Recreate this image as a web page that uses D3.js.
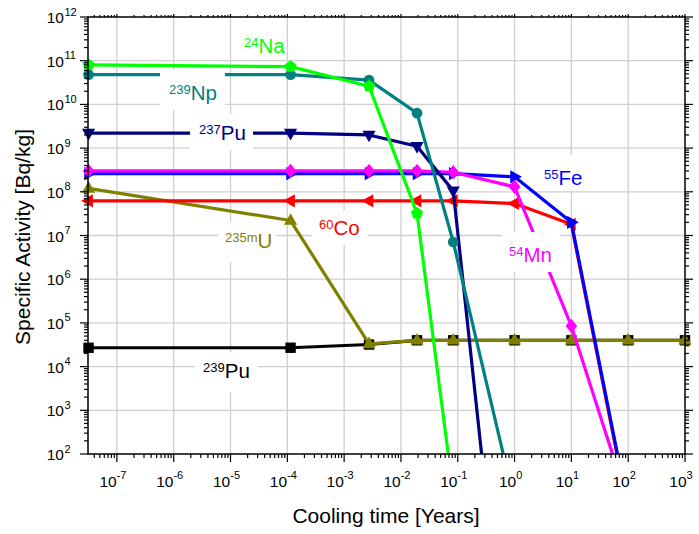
<!DOCTYPE html>
<html><head><meta charset="utf-8">
<script src="https://cdn.jsdelivr.net/npm/d3@7"></script>
<style>
body{margin:0;background:#fff}
text{font-family:Arial,"Liberation Sans",sans-serif}
</style>
</head><body>
<svg id="chart" width="699" height="534"></svg>
<script>
// ---- data ----
const times = [3.17e-8, 1.14e-4, 2.74e-3, 1.92e-2, 8.33e-2, 1, 10, 100, 1000]; // 1s,1h,1d,1w,1mo,1y,10y,100y,1000y
const pu239 = [2.7e4, 2.7e4, 3.2e4, 4.0e4, 4.0e4, 4.0e4, 4.0e4, 4.0e4, 4.0e4];
const u235m = [1.2e8, 2.2e7, 3.3e4, 4.0e4, 4.0e4, 4.0e4, 4.0e4, 4.0e4, 4.0e4];
const co60  = [6.2e7, 6.2e7, 6.2e7, 6.2e7, 6.2e7, 5.4e7, 1.8e7, 5, null];
const fe55  = [2.6e8, 2.6e8, 2.6e8, 2.6e8, 2.6e8, 2.2e8, 2.0e7, 5.8, null];
const mn54  = [3.0e8, 3.0e8, 3.0e8, 3.0e8, 2.8e8, 1.3e8, 8.5e4, 7.6, null];
const pu237 = [2.2e9, 2.2e9, 2.0e9, 1.1e9, 1.05e8, 1e-5, null, null, null];
const np239 = [4.8e10, 4.8e10, 3.6e10, 6.3e9, 7.1e6, 8, null, null, null];
const na24  = [8.0e10, 7.3e10, 2.6e10, 3.2e7, 13, null, null, null, null];
const xTickExps = [-7, -6, -5, -4, -3, -2, -1, 0, 1, 2, 3];
const yTickExps = [2, 3, 4, 5, 6, 7, 8, 9, 10, 11, 12];
const labelSup  = ["239", "235m", "60", "55", "54", "237", "239", "24"];
const labelMain = ["Pu", "U", "Co", "Fe", "Mn", "Pu", "Np", "Na"];
const xTitle = "Cooling time [Years]";
const yTitle = "Specific Activity [Bq/kg]";

// ---- layout ----
const L = 88, R = 685, T = 17, B = 454;
const svg = d3.select("#chart");
const x = d3.scaleLog().domain([3.1e-8, 1000]).range([L, R]);
const y = d3.scaleLog().domain([100, 1e12]).range([B, T]);

// grid
const grid = svg.append("g").attr("stroke", "#cfcfcf").attr("stroke-width", 1.3);
xTickExps.filter(e => e > -8 && e < 3).forEach(e => {
  grid.append("line").attr("x1", x(Math.pow(10, e))).attr("x2", x(Math.pow(10, e))).attr("y1", T).attr("y2", B);
});
yTickExps.filter(e => e > 2 && e < 12).forEach(e => {
  grid.append("line").attr("y1", y(Math.pow(10, e))).attr("y2", y(Math.pow(10, e))).attr("x1", L).attr("x2", R);
});

// clip
svg.append("clipPath").attr("id", "clip").append("rect")
  .attr("x", L).attr("y", T).attr("width", R - L).attr("height", B - T);

// symbols
function tri() {
  return `M0,-7.4L6.6,4.3L-6.6,4.3Z`;
}
const shapes = {
  square: () => "M-5.2,-5.2H5.2V5.2H-5.2Z",
  circle: () => d3.symbol(d3.symbolCircle, 90)(),
  diamond: () => "M0,-7.2L5.8,0L0,7.2L-5.8,0Z",
  up: () => tri(),
  pentagon: () => {
    const r = 6.4; let p = "";
    for (let k = 0; k < 5; k++) {
      const a = (-90 + 72 * k) * Math.PI / 180;
      p += (k ? "L" : "M") + (r * Math.cos(a)).toFixed(2) + "," + (r * Math.sin(a)).toFixed(2);
    }
    return p + "Z";
  }
};
const series = [
  {values: pu239, color: "#000000", shape: "square", rot: 0},
  {values: u235m, color: "#808000", shape: "up", rot: 0},
  {values: co60,  color: "#ff0000", shape: "up", rot: -90},
  {values: fe55,  color: "#0000ff", shape: "up", rot: 90},
  {values: mn54,  color: "#ff00ff", shape: "diamond", rot: 0},
  {values: pu237, color: "#000080", shape: "up", rot: 180},
  {values: np239, color: "#008080", shape: "circle", rot: 0},
  {values: na24,  color: "#00ff00", shape: "pentagon", rot: 0}
];

const line = d3.line().defined(d => d.v != null).x(d => x(d.t)).y(d => y(d.v));
series.forEach(s => {
  const pts = times.map((t, i) => ({t, v: s.values[i]}));
  const g = svg.append("g");
  g.append("path").attr("d", line(pts)).attr("clip-path", "url(#clip)")
    .attr("fill", "none").attr("stroke", s.color).attr("stroke-width", 3.2).attr("stroke-linejoin", "round");
  g.selectAll("path.m").data(pts.filter(d => d.v != null && d.v >= 100)).enter().append("path")
    .attr("class", "m")
    .attr("d", shapes[s.shape]())
    .attr("transform", d => `translate(${x(d.t)},${y(d.v)}) rotate(${s.rot})`)
    .attr("fill", s.color);
});

// labels with white backgrounds
const labelPos = [
  {sx: 203, by: 378, box: [195, 352, 63, 40], color: "#000000"},
  {sx: 225, by: 248, box: [218, 222, 58, 40], color: "#808000"},
  {sx: 319, by: 235, box: [312, 210, 56, 35], color: "#ff0000"},
  {sx: 544, by: 185, box: [540, 155, 50, 36], color: "#0000ff"},
  {sx: 509, by: 262, box: [502, 232, 58, 40], color: "#ff00ff"},
  {sx: 199, by: 140, box: [190, 114, 63, 36], color: "#000080"},
  {sx: 169, by: 100, box: [160, 70, 65, 40], color: "#008080"},
  {sx: 244, by: 53, box: null, color: "#00ff00"}
];
labelPos.forEach((p, i) => {
  if (p.box) svg.append("rect").attr("x", p.box[0]).attr("y", p.box[1]).attr("width", p.box[2]).attr("height", p.box[3]).attr("fill", "#fff");
  const t = svg.append("text").attr("x", p.sx).attr("y", p.by).attr("fill", p.color);
  t.append("tspan").attr("font-size", 13).attr("dy", -6).text(labelSup[i]);
  t.append("tspan").attr("font-size", 20.5).attr("dy", 6).text(labelMain[i]);
});

// frame
svg.append("rect").attr("x", L).attr("y", T).attr("width", R - L).attr("height", B - T)
  .attr("fill", "none").attr("stroke", "#000").attr("stroke-width", 1.5);

// ticks
const tk = svg.append("g").attr("stroke", "#000").attr("stroke-width", 1.2);
for (let e = -8; e <= 3; e++) {
  for (let m = 1; m <= 9; m++) {
    const v = m * Math.pow(10, e);
    if (v < x.domain()[0] * 0.999 || v > 1000.01) continue;
    const xx = x(v), major = m === 1;
    tk.append("line").attr("x1", xx).attr("x2", xx).attr("y1", B).attr("y2", B + (major ? 8 : 4));
    tk.append("line").attr("x1", xx).attr("x2", xx).attr("y1", T).attr("y2", T - (major ? 3 : 2));
  }
}
for (let e = 2; e <= 12; e++) {
  for (let m = 1; m <= 9; m++) {
    const v = m * Math.pow(10, e);
    if (v > 1.0001e12) continue;
    const yy = y(v), major = m === 1;
    tk.append("line").attr("y1", yy).attr("y2", yy).attr("x1", L).attr("x2", L - (major ? 8 : 4));
    tk.append("line").attr("y1", yy).attr("y2", yy).attr("x1", R).attr("x2", R + (major ? 8 : 4));
  }
}

// tick labels
xTickExps.forEach(e => {
  const t = svg.append("text").attr("x", x(Math.pow(10, e)) - 4).attr("y", 487)
    .attr("text-anchor", "middle").attr("fill", "#000");
  t.append("tspan").attr("font-size", 15.5).text("10");
  t.append("tspan").attr("font-size", 11).attr("dy", -8).text(String(e));
});
yTickExps.forEach(e => {
  const yy = y(Math.pow(10, e));
  svg.append("text").attr("x", 64).attr("y", yy + 6).attr("text-anchor", "end")
    .attr("font-size", 15.5).attr("fill", "#000").text("10");
  svg.append("text").attr("x", 64.5).attr("y", yy - 1.5).attr("text-anchor", "start")
    .attr("font-size", 11).attr("fill", "#000").text(String(e));
});

// axis titles
svg.append("text").attr("x", 386).attr("y", 523).attr("text-anchor", "middle")
  .attr("font-size", 21).attr("fill", "#000").text(xTitle);
svg.append("text").attr("transform", "translate(30,237) rotate(-90)").attr("text-anchor", "middle")
  .attr("font-size", 21).attr("fill", "#000").text(yTitle);
</script>
</body></html>
